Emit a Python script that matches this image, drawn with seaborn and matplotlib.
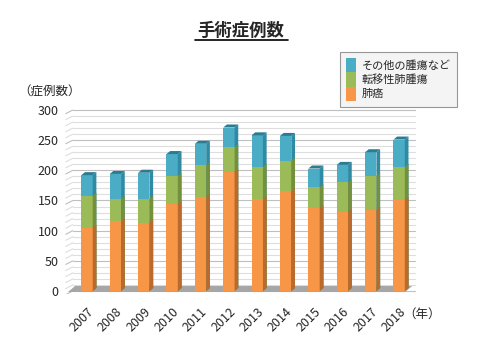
import matplotlib
matplotlib.use("Agg")
import matplotlib.pyplot as plt
import seaborn as sns
import pandas as pd
import numpy as np
from matplotlib.patches import Polygon, Patch
from matplotlib.lines import Line2D

# 手術症例数 (年別)
years = ["2007", "2008", "2009", "2010", "2011", "2012",
         "2013", "2014", "2015", "2016", "2017", "2018"]
lung_cancer = [105, 116, 113, 144, 156, 198, 152, 165, 137, 131, 134, 151]
metastatic = [53, 37, 40, 47, 53, 40, 54, 51, 35, 49, 57, 55]
other_tumor = [34, 41, 43, 36, 35, 33, 52, 41, 31, 29, 39, 45]

labels = ["肺癌", "転移性肺腫瘍", "その他の腫瘍など"]
colors = ["#F79646", "#9BBB59", "#4BACC6"]
side_colors = ["#B96A2C", "#74903D", "#2F8AA3"]
top_color = "#2A7C93"

sns.set_style("white")
plt.rcParams["font.family"] = ["Noto Sans CJK JP", "DejaVu Sans"]

df = pd.DataFrame({"year": years, "lung": lung_cancer,
                   "meta": metastatic, "other": other_tumor})
df["c1"] = df["lung"]
df["c2"] = df["lung"] + df["meta"]
df["c3"] = df["c2"] + df["other"]

fig = plt.figure(figsize=(4.8, 3.61), dpi=100)
ax = fig.add_axes([0.134, 0.1856, 0.733, 0.513])

n = len(years)
bw = 0.40
dx, dy = 0.13, 5.0

# gridlines with slanted back-wall part
for yv in range(0, 301, 10):
    c = "#bfbfbf" if yv % 50 == 0 else "#dedede"
    ax.plot([-0.5, n - 0.45], [yv, yv], color=c, lw=0.8, zorder=0.5)
    ax.plot([-0.75, -0.5], [yv - 6, yv], color=c, lw=0.8, zorder=0.5)

# floor
floor = Polygon([(-0.67, -1.7), (n - 1 + 0.21, -1.7),
                 (n - 1 + 0.46, 8.3), (-0.42, 8.3)],
                closed=True, facecolor="#a6a6a6", edgecolor="none", zorder=0.8)
ax.add_patch(floor)

layers = [("c3", 2), ("c2", 1), ("c1", 0)]
for col, i in layers:
    before = len(ax.patches)
    sns.barplot(data=df, x="year", y=col, color=colors[i], width=bw,
                saturation=1, ax=ax, zorder=2, linewidth=0, edgecolor="none")
    bars = ax.patches[before:]
    for b in bars:
        b.set_zorder(2)
        b.set_linewidth(0)
        x0, w, h = b.get_x(), b.get_width(), b.get_height()
        side = Polygon([(x0 + w, 0), (x0 + w + dx, dy),
                        (x0 + w + dx, h + dy), (x0 + w, h)],
                       closed=True, facecolor=side_colors[i],
                       edgecolor="none", zorder=2)
        ax.add_patch(side)
        if i == 2:
            top = Polygon([(x0, h), (x0 + dx, h + dy),
                           (x0 + w + dx, h + dy), (x0 + w, h)],
                          closed=True, facecolor=top_color,
                          edgecolor="none", zorder=2)
            ax.add_patch(top)

ax.set_xlim(-0.8, n - 0.4)
ax.set_ylim(-5, 302)
ax.set_yticks(range(0, 301, 50))
ax.set_xlabel("")
ax.set_ylabel("")
for s in ax.spines.values():
    s.set_visible(False)
ax.tick_params(axis="both", length=0, labelsize=9)
ax.tick_params(axis="y", pad=4)
ax.tick_params(axis="x", pad=8)
ax.set_xticks(range(n))
ax.set_xticklabels(years, rotation=45, ha="right", rotation_mode="anchor")

# texts
fig.text(0.502, 0.913, "手術症例数", ha="center", va="center",
         fontsize=12.5, fontweight="bold")
fig.add_artist(Line2D([195 / 480, 288 / 480], [1 - 40 / 361, 1 - 40 / 361],
                      color="black", lw=1.2))
fig.text(18 / 480, 1 - 92 / 361, "（症例数）", ha="left", va="center", fontsize=9)
fig.text(403 / 480, 1 - 314 / 361, "（年）", ha="left", va="center", fontsize=9)

handles = [Patch(facecolor=colors[i], edgecolor="none") for i in (2, 1, 0)]
leg = fig.legend(handles, [labels[i] for i in (2, 1, 0)],
                 loc="upper left", bbox_to_anchor=(340 / 480, 1 - 52 / 361),
                 fontsize=8, frameon=True, fancybox=False,
                 labelspacing=0.0, handlelength=0.9, handleheight=1.6,
                 handletextpad=0.5, borderpad=0.55, borderaxespad=0)
leg.get_frame().set_facecolor("#f2f2f2")
leg.get_frame().set_edgecolor("#7f7f7f")
leg.get_frame().set_linewidth(0.8)

fig.savefig("out.png", dpi=100)
